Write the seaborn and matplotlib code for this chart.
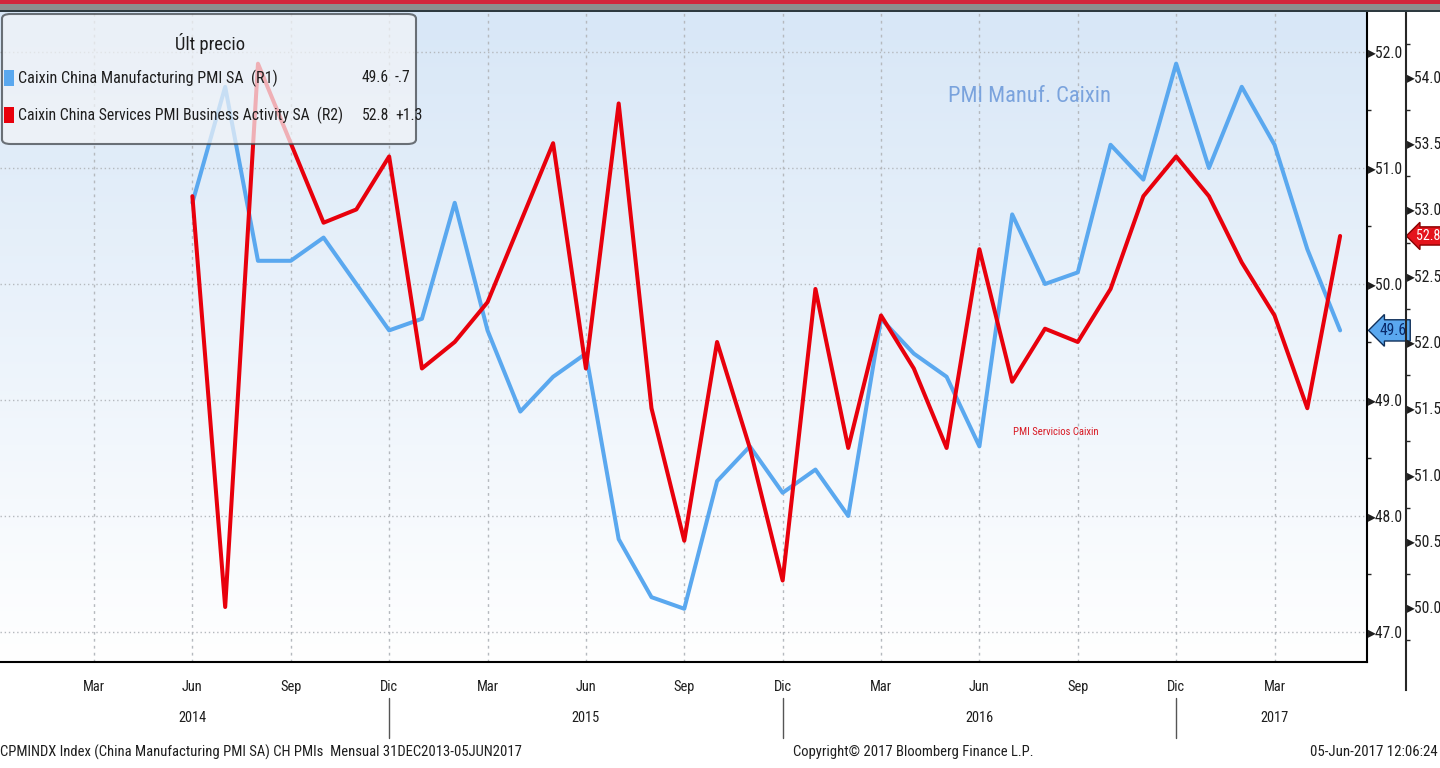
import numpy as np
import pandas as pd
import matplotlib
matplotlib.use("Agg")
import matplotlib.pyplot as plt
import seaborn as sns
from matplotlib.patches import FancyBboxPatch, Rectangle
from matplotlib.lines import Line2D
from matplotlib.colors import LinearSegmentedColormap
import matplotlib.transforms as mtrans
from matplotlib import font_manager as fm

# ---------------- data ----------------
months = ["2014-06", "2014-07", "2014-08", "2014-09", "2014-10", "2014-11", "2014-12",
          "2015-01", "2015-02", "2015-03", "2015-04", "2015-05", "2015-06",
          "2015-07", "2015-08", "2015-09", "2015-10", "2015-11", "2015-12",
          "2016-01", "2016-02", "2016-03", "2016-04", "2016-05", "2016-06",
          "2016-07", "2016-08", "2016-09", "2016-10", "2016-11", "2016-12",
          "2017-01", "2017-02", "2017-03", "2017-04", "2017-05"]
manuf = [50.7, 51.7, 50.2, 50.2, 50.4, 50.0, 49.6,
         49.7, 50.7, 49.6, 48.9, 49.2, 49.4, 47.8, 47.3, 47.2, 48.3, 48.6, 48.2,
         48.4, 48.0, 49.7, 49.4, 49.2, 48.6, 50.6, 50.0, 50.1, 51.2, 50.9, 51.9,
         51.0, 51.7, 51.2, 50.3, 49.6]
services = [53.1, 50.0, 54.1, 53.5, 52.9, 53.0, 53.4,
            51.8, 52.0, 52.3, 52.9, 53.5, 51.8, 53.8, 51.5, 50.5, 52.0, 51.2, 50.2,
            52.4, 51.2, 52.2, 51.8, 51.2, 52.7, 51.7, 52.1, 52.0, 52.4, 53.1, 53.4,
            53.1, 52.6, 52.2, 51.5, 52.8]
month_abbr = ["Ene", "Feb", "Mar", "Abr", "May", "Jun", "Jul", "Ago", "Sep", "Oct", "Nov", "Dic"]
tick_months = ["2014-%02d" % m for m in range(1, 13)] + ["2015-%02d" % m for m in range(1, 13)] + \
              ["2016-%02d" % m for m in range(1, 13)] + ["2017-%02d" % m for m in range(1, 6)]
year_labels = ["2014", "2015", "2016", "2017"]
year_label_months = ["2014-06", "2015-06", "2016-06", "2017-03"]
year_break_months = ["2014-12", "2015-12", "2016-12"]
r1_ticks = [47.0, 48.0, 49.0, 50.0, 51.0, 52.0]
r2_ticks = [50.0, 50.5, 51.0, 51.5, 52.0, 52.5, 53.0, 53.5, 54.0]
leg_names = ["Caixin China Manufacturing PMI SA  (R1)",
             "Caixin China Services PMI Business Activity SA  (R2)"]
leg_last = ["49.6", "52.8"]
leg_chg = ["-.7", "+1.3"]

BLUE = "#5aa8ef"
RED = "#e8000c"

def midx(s):
    y, m = map(int, s.split("-"))
    return (y - 2014) * 12 + (m - 1)

df = pd.DataFrame({"t": [midx(m) for m in months], "manuf": manuf, "services": services})

# ---------------- style / font choice ----------------
sns.set_style("white")
ttf = fm.fontManager.ttflist
names = {f.name for f in ttf}
family, stretch = "Liberation Sans", "normal"
if "Liberation Sans Narrow" in names:
    family = "Liberation Sans Narrow"
elif "Roboto Condensed" in names:
    family = "Roboto Condensed"
elif any(f.name == "DejaVu Sans" and str(f.stretch) in ("condensed", "semi-condensed") for f in ttf):
    family, stretch = "DejaVu Sans", "condensed"
elif "Open Sans Condensed" in names:
    family = "Open Sans Condensed"
plt.rcParams["font.family"] = [family, "DejaVu Sans"]
plt.rcParams["font.stretch"] = stretch
TXT = "#1e1e1e"

W, H = 1440, 768
def fx(px): return px / W
def fy(py): return 1 - py / H

fig = plt.figure(figsize=(14.4, 7.68), dpi=100)
fig.patch.set_facecolor("white")
renderer = fig.canvas.get_renderer()

def size_for(sample, target_px, base=12.0):
    t = fig.text(0, 0, sample, fontsize=base)
    w = t.get_window_extent(renderer).width
    t.remove()
    return base * target_px / w

fit_list = []
def ftext(x, y, s, target, **kw):
    t = fig.text(x, y, s, **kw)
    fit_list.append((t, target))
    return t

tick_fs = min(15.0, size_for("Mar", 22))
ylab_fs = min(14.0, size_for("52.0", 27))

# top bands
fig.add_artist(Rectangle((0, fy(4)), 1, 4 / H, transform=fig.transFigure, color="#d3263c", lw=0))
fig.add_artist(Rectangle((0, fy(10)), 1, 6 / H, transform=fig.transFigure, color="#8e8e8e", lw=0))
fig.add_artist(Rectangle((0, fy(12)), 1, 2 / H, transform=fig.transFigure, color="#2e3a40", lw=0))

ax = fig.add_axes([0, fy(662), fx(1367), fy(12) - fy(662)])
XMIN, XMAX = -0.867, 40.82
Y1MIN, Y1MAX = 46.741, 52.345
Y2MIN, Y2MAX = 49.585, 54.49
R2MIN, R2MAX = 49.374, 54.49

# gradient background
cmap = LinearSegmentedColormap.from_list("bg", ["#d8e7f7", "#ffffff"])
ax.imshow(np.linspace(0, 1, 256)[:, None], extent=[XMIN, XMAX, Y1MIN, Y1MAX],
          aspect="auto", cmap=cmap, origin="upper", zorder=0)

# grid
tpos = [midx(m) for m in tick_months]
qpos = [t for t in tpos if t % 3 == 2]
for q in qpos:
    ax.axvline(q, color="#b5b9be", lw=1.0, ls=(0, (2, 3)), zorder=1)
for v in r1_ticks:
    ax.axhline(v, color="#b5b9be", lw=1.0, ls=(0, (1, 2)), zorder=1)

sns.lineplot(data=df, x="t", y="manuf", ax=ax, color=BLUE, lw=2.9, zorder=3)
ax.set_xlabel("")
ax.set_ylabel("")

ax2 = ax.twinx()
sns.lineplot(data=df, x="t", y="services", ax=ax2, color=RED, lw=2.9, zorder=4)
ax2.set_axis_off()

# x ticks
ax.set_xticks(qpos)
ax.set_xticklabels([month_abbr[t % 12] for t in qpos], fontsize=tick_fs, color=TXT)
ax.set_xticks(tpos, minor=True)
ax.tick_params(axis="x", which="both", direction="out", length=6, width=1.2, color="black", pad=7)

# y ticks R1 on right
ax.yaxis.tick_right()
ax.set_yticks(r1_ticks)
ax.set_yticklabels(["\u25b8" + f"{v:.1f}" for v in r1_ticks], fontsize=ylab_fs, color=TXT)
ax.set_yticks(np.arange(47.5, 52.1, 1.0), minor=True)
ax.tick_params(axis="y", which="major", length=0, pad=1)
ax.tick_params(axis="y", which="minor", length=3, width=1, direction="out")
ax.tick_params(axis="y", which="minor", labelright=False)

for s in ["top", "left"]:
    ax.spines[s].set_visible(False)
for s in ["bottom", "right"]:
    ax.spines[s].set_color("black")
    ax.spines[s].set_linewidth(1.5)

# limits (after ticks, which may expand the view)
ax.set_xlim(XMIN, XMAX)
ax.set_ylim(Y1MIN, Y1MAX)
ax2.set_xlim(XMIN, XMAX)
ax2.set_ylim(Y2MIN, Y2MAX)

# R2 axis
ax3 = fig.add_axes([fx(1405), fy(690), 0.0004, fy(12) - fy(690)])
ax3.patch.set_visible(False)
for s in ["top", "left", "bottom"]:
    ax3.spines[s].set_visible(False)
ax3.spines["right"].set_linewidth(1.5)
ax3.set_xticks([])
ax3.yaxis.tick_right()
ax3.set_yticks(r2_ticks)
ax3.set_yticklabels(["\u25b8" + f"{v:.1f}" for v in r2_ticks], fontsize=ylab_fs, color=TXT)
ax3.set_yticks(np.arange(49.75, 54.4, 0.5), minor=True)
ax3.tick_params(axis="y", which="major", length=0, pad=1)
ax3.tick_params(axis="y", which="minor", length=3, width=1, direction="out")
ax3.set_ylim(R2MIN, R2MAX)

# last value tags
tr1 = mtrans.blended_transform_factory(fig.transFigure, ax.transData)
ax.text(fx(1380), manuf[-1], leg_last[0], transform=tr1, fontsize=ylab_fs, color="#0a2a6a",
        va="center", ha="left", clip_on=False, zorder=10,
        bbox=dict(boxstyle="larrow,pad=0.2", fc=BLUE, ec="#10305a", lw=1))
tr2 = mtrans.blended_transform_factory(fig.transFigure, ax2.transData)
ax2.text(fx(1416), services[-1], leg_last[1], transform=tr2, fontsize=ylab_fs * 0.9, color="white",
         va="center", ha="left", clip_on=False, zorder=10,
         bbox=dict(boxstyle="larrow,pad=0.15", fc="#e4141c", ec="#8a0000", lw=1))

# year labels and separators
trx = mtrans.blended_transform_factory(ax.transData, fig.transFigure)
for lab, m in zip(year_labels, year_label_months):
    fig.text(midx(m), fy(718), lab, transform=trx, ha="center", va="center", fontsize=tick_fs, color=TXT)
for m in year_break_months:
    fig.add_artist(Line2D([midx(m), midx(m)], [fy(698), fy(738)], transform=trx,
                          color="#555555", lw=1))

# annotations
ftext(fx(948), fy(97), "PMI Manuf. Caixin", 162, fontsize=20, color="#7aa3dd",
      ha="left", va="center", zorder=5)
ftext(fx(1013), fy(432), "PMI Servicios Caixin", 85, fontsize=8, color="#d81a24",
      ha="left", va="center")

# legend box
leg = FancyBboxPatch((fx(2), fy(144)), fx(414), (144 - 14) / H, transform=fig.transFigure,
                     boxstyle="round,pad=0,rounding_size=0.006", fc="#f2f4f7", ec="#3a3f44",
                     lw=1.5, alpha=0.72, zorder=2)
fig.add_artist(leg)
ftext(fx(210), fy(44), "\u00dalt precio", 70, ha="center", va="center", fontsize=12.5, zorder=3, color=TXT)
name_targets = [260, 327]
for i, (nm, lv, ch, col) in enumerate(zip(leg_names, leg_last, leg_chg, [BLUE, RED])):
    yy = 78 + i * 37
    fig.add_artist(Rectangle((fx(4), fy(yy + 8)), fx(10), 16 / H, transform=fig.transFigure,
                             color=col, lw=0, zorder=3))
    ftext(fx(18), fy(yy), nm, name_targets[i], ha="left", va="center", fontsize=12.5, zorder=3, color=TXT)
    fig.text(fx(389), fy(yy), lv, ha="right", va="center", fontsize=ylab_fs, zorder=3, color=TXT)
    fig.text(fx(395), fy(yy), ch, ha="left", va="center", fontsize=ylab_fs, zorder=3, color=TXT)

# footer
ftext(fx(0), fy(752), "CPMINDX Index (China Manufacturing PMI SA) CH PMIs  Mensual 31DEC2013-05JUN2017",
      520, ha="left", va="center", fontsize=11.5, color=TXT)
ftext(fx(793), fy(752), "Copyright\u00a9 2017 Bloomberg Finance L.P.", 239,
      ha="left", va="center", fontsize=11.5, color=TXT)
ftext(fx(1438), fy(752), "05-Jun-2017 12:06:24", 128, ha="right", va="center", fontsize=11.5, color=TXT)

# fit text widths to the reference
for t, target in fit_list:
    w = t.get_window_extent(renderer).width
    if w > 0:
        t.set_fontsize(t.get_fontsize() * target / w)

fig.savefig("out.png", dpi=100)
